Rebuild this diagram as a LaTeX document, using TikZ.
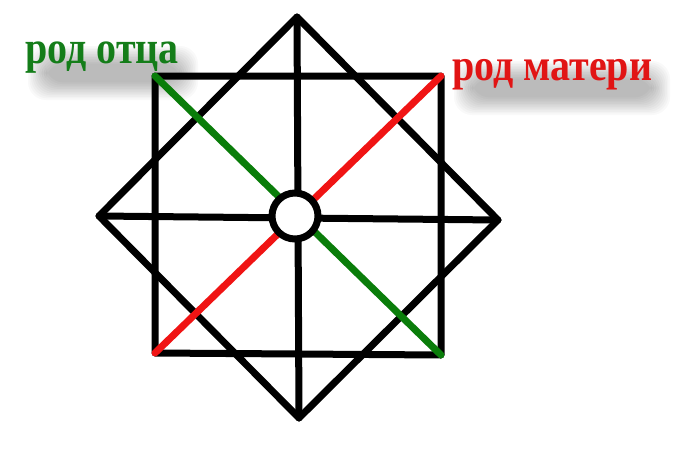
\documentclass[tikz,border=0pt]{standalone}
\usepackage{fontspec}
\usepackage{graphicx}
\setmainfont{Liberation Serif}
\definecolor{fathertext}{RGB}{20,125,25}
\definecolor{mothertext}{RGB}{225,20,20}
\definecolor{fatherline}{RGB}{10,125,10}
\definecolor{motherline}{RGB}{240,20,20}
\begin{document}
\begin{tikzpicture}[x=1pt,y=-1pt,
  blk/.style={line width=7pt,black,line cap=round,line join=round},
  diag/.style={line width=7pt,line cap=round},
  lbl/.style={inner sep=0pt,anchor=base west,font=\fontsize{40}{40}\selectfont\bfseries},
  shd/.style={fill=black,opacity=0.022,rounded corners=18pt}]
\useasboundingbox[fill=white] (0,0) rectangle (688,450);
% points
\coordinate (tl) at (155,76);
\coordinate (tr) at (441,76);
\coordinate (br) at (441,355);
\coordinate (bl) at (155,353);
\coordinate (dt) at (297,17);
\coordinate (dr) at (498,220);
\coordinate (db) at (299,418);
\coordinate (dl) at (99,216);
% blurred shadows
\foreach \i in {0,...,11} {
  \fill[shd] (28+1.6*\i,46+1.6*\i) rectangle (198-1.6*\i,100-1.6*\i);
  \fill[shd] (454+1.6*\i,61+1.6*\i) rectangle (670-1.6*\i,115-1.6*\i);
}
% labels
\node[lbl,text=fathertext] (father) at (25,63) {\scalebox{1}[1.15]{род отца}};
\node[lbl,text=mothertext] (mother) at (452,80) {\scalebox{1}[1.12]{род матери}};
% black figure
\draw[blk] (tl) -- (tr) -- (br) -- (bl) -- cycle;
\draw[blk] (dt) -- (dr) -- (db) -- (dl) -- cycle;
\draw[blk] (dl) -- (dr);
\draw[blk] (dt) -- (db);
% coloured diagonals
\draw[diag,fatherline] (tl) -- (br);
\draw[diag,motherline] (tr) -- (bl);
% centre circle
\node[circle,draw=black,line width=7pt,fill=white,minimum size=46pt,inner sep=0pt] (c) at (295,216) {};
\end{tikzpicture}
\end{document}
